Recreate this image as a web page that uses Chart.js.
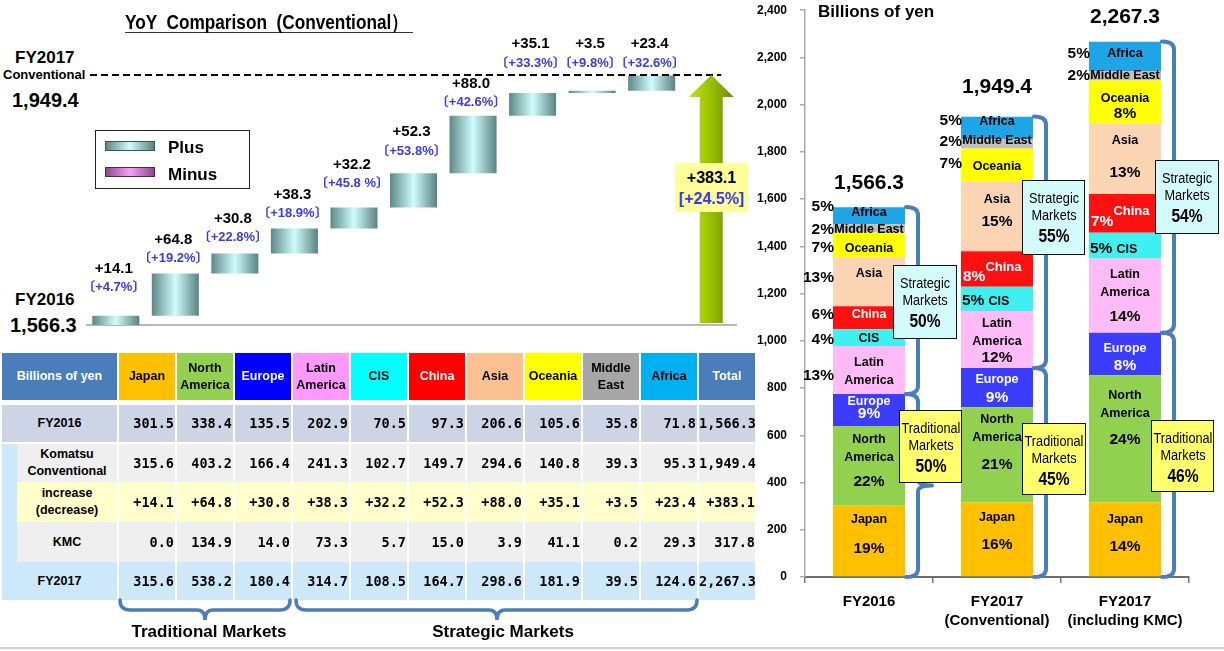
<!DOCTYPE html>
<html><head><meta charset="utf-8">
<script src="https://cdn.jsdelivr.net/npm/chart.js@4.4.1/dist/chart.umd.min.js"></script>
<style>
body{margin:0;background:#fff;}
#root{position:relative;width:1224px;height:651px;overflow:hidden;font-family:'Liberation Sans',Arial,sans-serif;color:#000;}
.abs{position:absolute;}
.b{font-weight:bold;}
.mbox{position:absolute;box-sizing:border-box;border:1.5px solid #111;text-align:center;padding-top:8px;}
.mbox div{width:200%;margin-left:-50%;white-space:nowrap;line-height:17px;font-size:15.5px;transform-origin:50% 50%;}
.mbox div.pc{font-weight:bold;font-size:19px;line-height:26px;}
.cell{position:absolute;box-sizing:border-box;white-space:nowrap;}
.num{font-family:'DejaVu Sans Mono',monospace;font-weight:bold;font-size:13.5px;text-align:right;padding-right:1px;}
.hd{font-weight:bold;font-size:12.5px;text-align:center;display:flex;align-items:center;justify-content:center;line-height:17px;}
</style></head><body><div id="root">
<canvas id="wf" width="655" height="330" style="position:absolute;left:86px;top:0;"></canvas>
<canvas id="st" width="474" height="661" style="position:absolute;left:750px;top:-10px;"></canvas>

<div class="abs b" style="left:125px;top:11px;width:288px;height:21px;line-height:21px;border-bottom:1.5px solid #333;font-size:21px;white-space:pre;"><span id="tt" class="nar" style="display:inline-block;transform-origin:0 50%;">YoY  Comparison  (Conventional）</span></div>

<div class="abs b" style="left:15px;top:48px;font-size:17px;line-height:20px;">FY2017</div>
<div class="abs b" style="left:3px;top:67px;font-size:13px;line-height:16px;">Conventional</div>
<div class="abs b" id="lblConv" style="left:12px;top:88px;font-size:20px;line-height:24px;"></div>
<div class="abs b" style="left:15px;top:290px;font-size:17px;line-height:20px;">FY2016</div>
<div class="abs b" id="lbl16" style="left:10px;top:313px;font-size:20px;line-height:24px;"></div>

<div class="abs" style="left:95px;top:130px;width:153px;height:57px;border:1.5px solid #222;"></div>
<div class="abs" style="left:105px;top:141px;width:48px;height:8px;border:1.5px solid #3a5656;background:linear-gradient(90deg,#5d8888,#cffcfc,#5a8282);"></div>
<div class="abs b" style="left:168px;top:137px;font-size:17px;line-height:22px;">Plus</div>
<div class="abs" style="left:105px;top:167px;width:48px;height:8px;border:1.5px solid #4a2a4a;background:linear-gradient(90deg,#8a4a8a,#ff9cff,#8a4a8a);"></div>
<div class="abs b" style="left:168px;top:164px;font-size:17px;line-height:22px;">Minus</div>

<div class="abs b" style="left:675px;top:163px;width:73px;height:49px;background:#ffff99;text-align:center;font-size:16px;line-height:21px;padding-top:4px;box-sizing:border-box;"><div id="ybV"></div><div id="ybP" style="color:#3a3ae8;"></div></div>

<div class="abs b" style="left:818px;top:1px;font-size:17px;line-height:22px;">Billions of yen</div>

<div class="mbox" style="left:893px;top:265px;width:64px;height:74px;background:#d4fbfb;"><div class="nar">Strategic</div><div class="nar">Markets</div><div class="nar pc" id="s0"></div></div>
<div class="mbox" style="left:899px;top:410px;width:63px;height:73px;background:#ffff6e;"><div class="nar">Traditional</div><div class="nar">Markets</div><div class="nar pc" id="t0"></div></div>
<div class="mbox" style="left:1022px;top:180px;width:63px;height:75px;background:#d4fbfb;"><div class="nar">Strategic</div><div class="nar">Markets</div><div class="nar pc" id="s1"></div></div>
<div class="mbox" style="left:1022px;top:423px;width:64px;height:72px;background:#ffff6e;"><div class="nar">Traditional</div><div class="nar">Markets</div><div class="nar pc" id="t1"></div></div>
<div class="mbox" style="left:1155px;top:160px;width:64px;height:74px;background:#d4fbfb;"><div class="nar">Strategic</div><div class="nar">Markets</div><div class="nar pc" id="s2"></div></div>
<div class="mbox" style="left:1151px;top:420px;width:63px;height:72px;background:#ffff6e;"><div class="nar">Traditional</div><div class="nar">Markets</div><div class="nar pc" id="t2"></div></div>

<div id="tbl"></div>

<svg class="abs" style="left:0;top:0;" width="760" height="651">
<path d="M120 600 Q120 610 130 610 L197 610 Q205 610 205 620 Q205 610 213 610 L280 610 Q290 610 290 600" stroke="#4a7ebb" stroke-width="3.5" fill="none" stroke-linecap="round"/>
<path d="M296 600 Q296 610 306 610 L489 610 Q497 610 497 620 Q497 610 505 610 L687 610 Q697 610 697 600" stroke="#4a7ebb" stroke-width="3.5" fill="none" stroke-linecap="round"/>
</svg>
<div class="abs b" style="left:109px;top:621px;width:200px;text-align:center;font-size:17px;line-height:22px;">Traditional Markets</div>
<div class="abs b" style="left:403px;top:621px;width:200px;text-align:center;font-size:17px;line-height:22px;">Strategic Markets</div>
<div class="abs" style="left:0;top:647px;width:1224px;height:2px;background:#d0d0d0;"></div>
</div>
<script>
// ---------------- DATA ----------------
const regions = ['Japan','North America','Europe','Latin America','CIS','China','Asia','Oceania','Middle East','Africa'];
const fy2016 = [301.5,338.4,135.5,202.9,70.5,97.3,206.6,105.6,35.8,71.8];
const conv   = [315.6,403.2,166.4,241.3,102.7,149.7,294.6,140.8,39.3,95.3];
const inc    = [14.1,64.8,30.8,38.3,32.2,52.3,88.0,35.1,3.5,23.4];
const kmc    = [0.0,134.9,14.0,73.3,5.7,15.0,3.9,41.1,0.2,29.3];
const fy2017 = [315.6,538.2,180.4,314.7,108.5,164.7,298.6,181.9,39.5,124.6];
const rowTotals = [1566.3,1949.4,383.1,317.8,2267.3];
const incPct = ['+4.7%','+19.2%','+22.8%','+18.9%','+45.8 %','+53.8%','+42.6%','+33.3%','+9.8%','+32.6%'];
const incTotalPct = '+24.5%';
const share2016 = ['19%','22%','9%','13%','4%','6%','13%','7%','2%','5%'];
const shareConv = ['16%','21%','9%','12%','5%','8%','15%','7%','2%','5%'];
const shareKmc  = ['14%','24%','8%','14%','5%','7%','13%','8%','2%','5%'];
const strategicShare = ['50%','55%','54%'];
const traditionalShare = ['50%','45%','46%'];
const barLabels = ['FY2016',['FY2017','(Conventional)'],['FY2017','(including KMC)']];
const yTicks = {min:0, max:2400, step:200};

// ---------------- STYLE ----------------
const F = "'Liberation Sans', Arial, sans-serif";
const FJ = "'Liberation Sans', Arial, 'Noto Sans CJK JP', sans-serif";
const segColors = ['#ffc000','#92d050','#3c3cff','#ffbbf7','#3ff0f0','#ff1010','#fbd4b4','#ffff00','#bfbfbf','#1ea5e6'];
const hdrBg = ['#ffc000','#92d050','#0000ff','#ff99ff','#00ffff','#ff0000','#fac090','#ffff00','#a6a6a6','#00b0f0','#4a7ebb'];
const hdrFg = ['#000','#000','#fff','#000','#000','#fff','#000','#000','#000','#000','#fff'];
const txtCol = ['#000','#000','#fff','#000','#000','#fff','#000','#000','#000','#000'];
const WF_LABEL_DY = [-28,-15,-16,-15,-24,-22,-13,-40,-40,-40];
const SEG_STYLE = [
 [{m:'in',g:29,dy:-7},{m:'in',g:24,dy:-5},{m:'in',g:12,dy:-2},{m:'out',dy:2,pdy:6},{m:'out',dy:1,pdy:2},{m:'out',dy:-3,pdy:-3},{m:'out',dy:-8,pdy:-4},{m:'out',dy:3,pdy:3},{m:'out',dy:1,pdy:1},{m:'out',dy:-3,pdy:-9}],
 [{m:'in',g:27,dy:-8},{m:'in',g:27,dy:-13},{m:'in',g:18,dy:1},{m:'in',g:16,dy:1},{m:'inl',dy:2},{m:'cn'},{m:'in',g:22,dy:-6},{m:'out',dy:1,pdy:-1},{m:'out',dy:-3,pdy:-2},{m:'out',dy:-6,pdy:-7}],
 [{m:'in',g:27,dy:-6},{m:'in',g:26,dy:-21},{m:'in',g:18,dy:3},{m:'in',g:24,dy:0},{m:'inl',dy:3},{m:'cn'},{m:'in',g:32,dy:-2},{m:'in',g:15,dy:4},{m:'out',dy:0,pdy:0},{m:'out',dy:-3,pdy:-3}]
];
const TOTAL_DY = [-24,-29,-24];
const segNames = regions.map(r => (r==='North America'||r==='Latin America') ? r.split(' ') : [r]);
const fmt1 = v => v.toLocaleString('en-US',{minimumFractionDigits:1,maximumFractionDigits:1});

// narrow font handling
function hasFont(f){const c=document.createElement('canvas').getContext('2d');const s='abcdefghijklmnopqrstuvwxyzABCDEFG';c.font='40px monospace';const a=c.measureText(s).width;c.font=`40px "${f}", monospace`;return c.measureText(s).width!==a;}
const NARROW = hasFont('Liberation Sans Narrow');
document.querySelectorAll('.nar').forEach(e=>{
  if(NARROW){e.style.fontFamily="'Liberation Sans Narrow','Liberation Sans',Arial,sans-serif";}
  else{e.style.transform='scaleX(0.82)';}
});

// html texts from data
document.getElementById('lblConv').textContent = fmt1(rowTotals[1]);
document.getElementById('lbl16').textContent = fmt1(rowTotals[0]);
document.getElementById('ybV').textContent = '+' + fmt1(rowTotals[2]);
document.getElementById('ybP').textContent = '[' + incTotalPct + ']';
for(let j=0;j<3;j++){document.getElementById('s'+j).textContent=strategicShare[j];document.getElementById('t'+j).textContent=traditionalShare[j];}

// ---------------- TABLE ----------------
(function(){
  const root=document.getElementById('tbl');
  function cell(x,y,w,h,bg,html,cls,fg){const d=document.createElement('div');d.className='cell '+(cls||'');
    Object.assign(d.style,{left:x+'px',top:y+'px',width:w+'px',height:h+'px',background:bg,color:fg||'#000'});
    if(cls&&cls.indexOf('num')>=0){d.style.lineHeight=h+'px';}
    d.innerHTML=html;root.appendChild(d);return d;}
  const colX = i => 119 + 58*i;
  const HY=353, HH=47;
  cell(2,HY,115,HH,'#4a7ebb','Billions of yen','hd','#fff');
  const hdrNames = regions.map(r => (r==='North America'||r==='Latin America'||r==='Middle East') ? r.replace(' ','<br>') : r).concat(['Total']);
  hdrNames.forEach((n,i)=>cell(colX(i),HY,56,HH,hdrBg[i],n,'hd',hdrFg[i]));
  const rows=[
    {lab:'FY2016',vals:fy2016,tot:rowTotals[0],y:405,h:37,bg:'#cdd4e5',ind:false},
    {lab:'Komatsu<br>Conventional',vals:conv,tot:rowTotals[1],y:444,h:38,bg:'#efefef',ind:true},
    {lab:'increase<br>(decrease)',vals:inc,tot:rowTotals[2],y:482,h:40,bg:'#ffffcc',ind:true,sign:true},
    {lab:'KMC',vals:kmc,tot:rowTotals[3],y:522,h:40,bg:'#efefef',ind:true},
    {lab:'FY2017',vals:fy2017,tot:rowTotals[4],y:562,h:38,bg:'#cce8f9',ind:false}
  ];
  cell(2,444,15,118,'#cce8f9','','');
  rows.forEach(r=>{
    const lx=r.ind?17:2, lw=r.ind?100:115;
    cell(lx,r.y,lw,r.h,r.bg,r.lab,'hd');
    const f = v => (r.sign?'+':'') + fmt1(v);
    r.vals.forEach((v,i)=>cell(colX(i),r.y,56,r.h,r.bg,f(v),'num'));
    const t=cell(colX(10),r.y,56,r.h,r.bg,f(r.tot),'num');t.style.paddingRight='0px';
  });
})();

// ---------------- WATERFALL ----------------
let run = rowTotals[0];
const wfData = inc.map(v => { const a=[run, run+v]; run += v; return a; });
wfData.push([rowTotals[0], rowTotals[1]]);
const PX_PER_UNIT = 0.6526;
const wfPlugin = {
  id:'wfp',
  beforeDatasetsDraw(ch){
    const {ctx, chartArea:a, scales:{y}} = ch;
    const yb = y.getPixelForValue(rowTotals[0]);
    ctx.save(); ctx.strokeStyle='#a0a0a0'; ctx.lineWidth=1.5; ctx.beginPath(); ctx.moveTo(a.left, yb); ctx.lineTo(a.right-4, yb); ctx.stroke(); ctx.restore();
  },
  afterDatasetsDraw(ch){
    const {ctx, chartArea:a, scales:{y}} = ch;
    const meta = ch.getDatasetMeta(0);
    const yd = y.getPixelForValue(rowTotals[1]);
    const ael = meta.data[10];
    const cx = ael.x, top = Math.min(ael.y, ael.base), bot = Math.max(ael.y, ael.base);
    ctx.save();
    ctx.setLineDash([7,4]); ctx.lineWidth=2; ctx.strokeStyle='#000';
    ctx.beginPath(); ctx.moveTo(a.left+4, yd); ctx.lineTo(cx+10, yd); ctx.stroke();
    ctx.setLineDash([]);
    const hw=22.5, sw=11.5, hh=22;
    const g=ctx.createLinearGradient(cx-hw,0,cx+hw,0);
    g.addColorStop(0,'#c4e01e'); g.addColorStop(0.45,'#9cc400'); g.addColorStop(1,'#6a8c00');
    ctx.fillStyle=g; ctx.beginPath();
    ctx.moveTo(cx, top); ctx.lineTo(cx+hw, top+hh); ctx.lineTo(cx+sw, top+hh); ctx.lineTo(cx+sw, bot-2);
    ctx.lineTo(cx-sw, bot-2); ctx.lineTo(cx-sw, top+hh); ctx.lineTo(cx-hw, top+hh); ctx.closePath(); ctx.fill();
    ctx.textAlign='center'; ctx.textBaseline='middle';
    for(let i=0;i<10;i++){
      const el=meta.data[i]; const t=Math.min(el.y, el.base);
      let py=t+WF_LABEL_DY[i]; if(py<yd+12) py=yd-12;
      ctx.font=`bold 13px ${FJ}`; ctx.fillStyle='#3a3ae8';
      ctx.fillText('〔'+incPct[i]+'〕', el.x-2, py);
      ctx.font=`bold 15px ${F}`; ctx.fillStyle='#000';
      ctx.fillText('+'+inc[i].toFixed(1), el.x-2, py-19);
    }
    ctx.restore();
  }
};
new Chart(document.getElementById('wf'), {
  type:'bar',
  data:{labels: regions.concat(['Total']), datasets:[{data: wfData, barPercentage:0.79, categoryPercentage:1, borderWidth:0,
    backgroundColor: c => {
      if(c.type!=='data' || c.dataIndex===10) return 'rgba(0,0,0,0)';
      const ch=c.chart; if(!ch.chartArea) return '#9cc';
      const xs=ch.scales.x; const cx=xs.getPixelForValue(c.dataIndex); const w=xs.width/11*0.79;
      const g=ch.ctx.createLinearGradient(cx-w/2,0,cx+w/2,0);
      g.addColorStop(0,'#5d8888'); g.addColorStop(0.5,'#cffcfc'); g.addColorStop(1,'#5a8282'); return g;
    }}]},
  options:{responsive:false, animation:false, layout:{padding:{top:0,bottom:5,left:0,right:0}},
    plugins:{legend:{display:false}, tooltip:{enabled:false}},
    scales:{x:{display:false}, y:{display:false, min:rowTotals[0], max:rowTotals[0]+325/PX_PER_UNIT}}},
  plugins:[wfPlugin]
});

// ---------------- STACKED ----------------
const series = [fy2016, conv, fy2017];
const colTotals = [rowTotals[0], rowTotals[1], rowTotals[4]];
const shares = [share2016, shareConv, shareKmc];
const stPlugin = {
  id:'stp',
  afterDatasetsDraw(ch){
    const ctx=ch.ctx, ys=ch.scales.y;
    ctx.save(); ctx.textBaseline='middle';
    for(let j=0;j<3;j++){
      for(let i=0;i<10;i++){
        const el=ch.getDatasetMeta(i).data[j]; const st=SEG_STYLE[j][i];
        const C=(el.y+el.base)/2, L=el.x-el.width/2, names=segNames[i], sh=shares[j][i];
        ctx.fillStyle=txtCol[i];
        if(st.m==='in'){
          const span=18*(names.length-1)+st.g; const y0=C+st.dy-span/2;
          ctx.textAlign='center'; ctx.font=`bold 12.5px ${F}`;
          names.forEach((n,k)=>ctx.fillText(n, el.x, y0+18*k));
          ctx.font=`bold 15.5px ${F}`; ctx.fillText(sh, el.x, y0+span);
        } else if(st.m==='out'){
          const span=18*(names.length-1); const y0=C+st.dy-span/2;
          ctx.textAlign='center'; ctx.font=`bold 12.5px ${F}`;
          names.forEach((n,k)=>ctx.fillText(n, el.x, y0+18*k));
          ctx.textAlign='right'; ctx.fillStyle='#000'; ctx.font=`bold 15.5px ${F}`;
          ctx.fillText(sh, L+1, C+st.pdy);
        } else if(st.m==='inl'){
          ctx.textAlign='left'; ctx.font=`bold 15.5px ${F}`; ctx.fillText(sh, L+1, C+st.dy);
          const w=ctx.measureText(sh).width; ctx.font=`bold 12.5px ${F}`; ctx.fillText(names[0], L+5+w, C+st.dy+1);
        } else if(st.m==='cn'){
          ctx.textAlign='left'; ctx.font=`bold 15.5px ${F}`; ctx.fillText(sh, L+2, C+8);
          const w=ctx.measureText(sh).width; ctx.font=`bold 13px ${F}`; ctx.fillText(names[0], L+2+w, C-2);
        }
      }
      const top=ch.getDatasetMeta(9).data[j];
      ctx.textAlign='center'; ctx.fillStyle='#000'; ctx.font=`bold 21px ${F}`;
      ctx.fillText(fmt1(colTotals[j]), top.x, ys.getPixelForValue(colTotals[j])+TOTAL_DY[j]);
      // brackets
      const el0=ch.getDatasetMeta(0).data[j];
      const bx=el0.x+el0.width/2+13;
      const trad=series[j][0]+series[j][1]+series[j][2];
      const yT=ys.getPixelForValue(colTotals[j]), yM=ys.getPixelForValue(trad), yB=ys.getPixelForValue(0);
      ctx.strokeStyle='#4a7ebb'; ctx.lineWidth=4; ctx.lineCap='round';
      [[yT,yM],[yM,yB]].forEach(([a,b])=>{
        const mid=(a+b)/2;
        ctx.beginPath();
        ctx.moveTo(bx-12,a); ctx.quadraticCurveTo(bx,a,bx,a+8); ctx.lineTo(bx,mid-6);
        ctx.quadraticCurveTo(bx,mid,bx+14,mid); ctx.moveTo(bx+14,mid); ctx.quadraticCurveTo(bx,mid,bx,mid+6);
        ctx.lineTo(bx,b-8); ctx.quadraticCurveTo(bx,b,bx-12,b); ctx.stroke();
      });
    }
    ctx.restore();
  }
};
new Chart(document.getElementById('st'), {
  type:'bar',
  data:{labels: barLabels, datasets: regions.map((r,i)=>({label:r, data: series.map(s=>s[i]), backgroundColor: segColors[i], borderWidth:0, barPercentage:0.5625, categoryPercentage:1}))},
  options:{responsive:false, animation:false,
    layout:{padding:{left:0,right:35,top:0,bottom:0}},
    plugins:{legend:{display:false}, tooltip:{enabled:false}},
    scales:{
      x:{stacked:true, grid:{drawOnChartArea:false, tickLength:6, color:'#777', lineWidth:1.5, offset:true},
         border:{display:true, color:'#6f6f6f', width:2},
         ticks:{color:'#000', font:{family:F, weight:'bold', size:15, lineHeight:1.27}, padding:9, maxRotation:0, autoSkip:false},
         afterFit(s){s.height=74;}},
      y:{stacked:true, min:yTicks.min, max:yTicks.max,
         grid:{drawOnChartArea:false, tickLength:5, color:'#aaa', lineWidth:1.5},
         border:{display:true, color:'#aaa', width:1.5},
         ticks:{stepSize:yTicks.step, color:'#000', font:{family:F, weight:'bold', size:12}, padding:13, callback:v=>v.toLocaleString('en-US')},
         afterFit(s){s.width=55;}}
    }},
  plugins:[stPlugin]
});
</script>
</body></html>
